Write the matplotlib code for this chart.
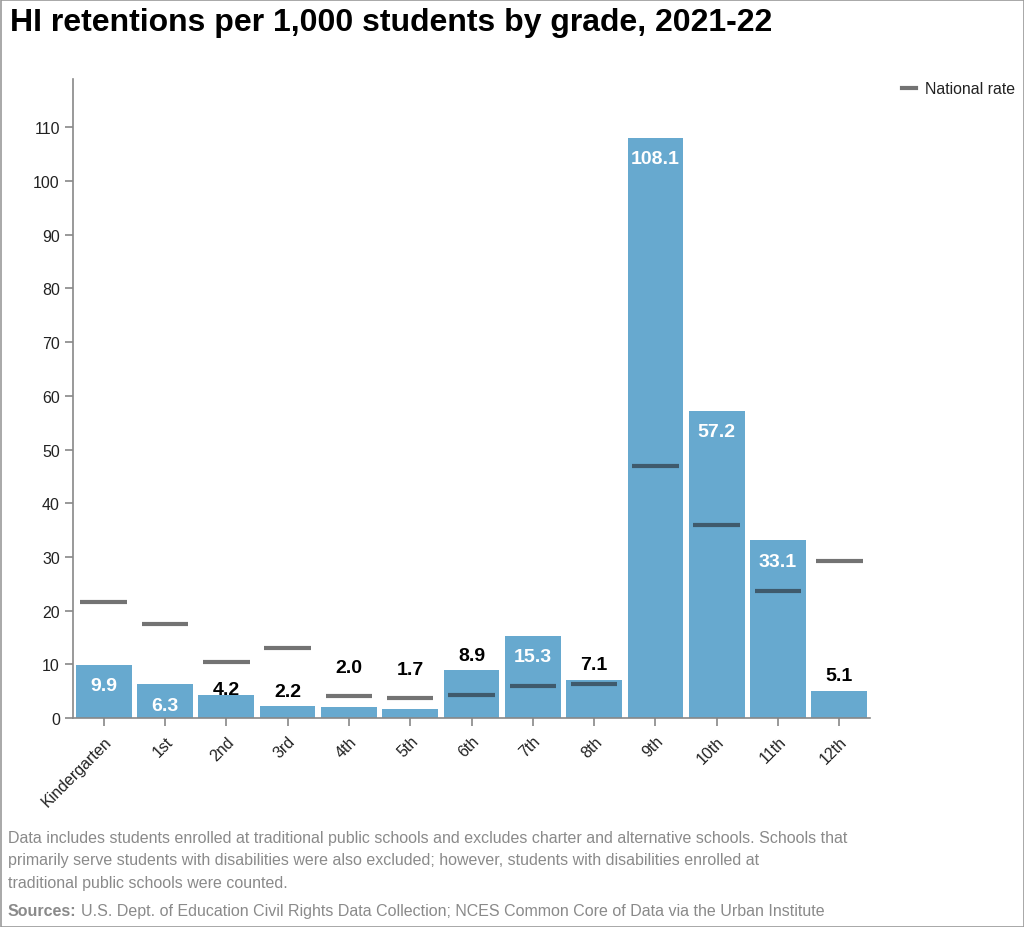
import matplotlib
matplotlib.use("Agg")
import matplotlib.pyplot as plt
from matplotlib.lines import Line2D
from matplotlib.patches import Rectangle

plt.rcParams['font.family'] = ['Liberation Sans', 'DejaVu Sans']

grades = ["Kindergarten", "1st", "2nd", "3rd", "4th", "5th", "6th", "7th", "8th",
          "9th", "10th", "11th", "12th"]
hi_rates = [9.9, 6.3, 4.2, 2.2, 2.0, 1.7, 8.9, 15.3, 7.1, 108.1, 57.2, 33.1, 5.1]
national_rates = [21.6, 17.5, 10.5, 13.0, 4.1, 3.8, 4.3, 5.9, 6.3, 46.9, 35.9, 23.6, 29.3]
label_inside = [True, True, False, False, False, False, False, True, False,
                True, True, True, False]
yticks = list(range(0, 111, 10))

bar_color = "#67a9cf"
line_out = "#737373"
line_in = "#3f5a6c"

fig = plt.figure(figsize=(10.24, 9.28), dpi=100)
ax = fig.add_axes([73/1024, 1-719/928, (870-73)/1024, (719-80)/928])

x = list(range(len(grades)))
ax.bar(x, hi_rates, width=0.91, color=bar_color, zorder=2)

for i, (v, n) in enumerate(zip(hi_rates, national_rates)):
    c = line_in if n < v else line_out
    ax.plot([i - 0.38, i + 0.38], [n, n], color=c, lw=3, solid_capstyle='butt', zorder=3)
    if label_inside[i]:
        ax.text(i, v - 2.3, f"{v:.1f}", ha='center', va='top', color='white',
                fontsize=14, fontweight='bold', zorder=4)
    else:
        base = v + 1.2
        if n > v and n - v < 4:
            base = n + 3.7
        elif i == 2:
            base = v - 0.5
        ax.text(i, base, f"{v:.1f}", ha='center', va='bottom', color='black',
                fontsize=14, fontweight='bold', zorder=4)

ax.set_xlim(-0.5, len(grades) - 0.5)
ax.set_ylim(0, 119)
ax.set_yticks(yticks)
ax.set_xticks(x)
ax.set_xticklabels(grades, rotation=45, ha='right', rotation_mode='anchor')
for s in ['top', 'right']:
    ax.spines[s].set_visible(False)
for s in ['left', 'bottom']:
    ax.spines[s].set_color('#888888')
    ax.spines[s].set_linewidth(1.2)
ax.tick_params(axis='both', colors='#888888', labelcolor='#222222', labelsize=11.5,
               length=6, width=1.2)
ax.tick_params(axis='x', pad=5)

# Title
fig.text(10/1024, 1-23/928, "HI retentions per 1,000 students by grade, 2021-22",
         fontsize=23, fontweight='bold', va='center', ha='left', color='black')

# Legend
fig.add_artist(Line2D([902/1024, 916/1024], [1-89/928, 1-89/928], color=line_out, lw=3))
fig.text(925/1024, 1-89/928, "National rate", fontsize=11.4, va='center', ha='left', color='#222222')

# Footnotes
note = ("Data includes students enrolled at traditional public schools and excludes charter and alternative schools. Schools that\n"
        "primarily serve students with disabilities were also excluded; however, students with disabilities enrolled at\n"
        "traditional public schools were counted.")
fig.text(8/1024, 1-831/928, note, fontsize=11.5, va='top', ha='left', color='#8a8a8a',
         linespacing=1.62)
t = fig.text(8/1024, 1-912/928, "Sources:", fontsize=11.5, va='center', ha='left',
             color='#8a8a8a', fontweight='bold')
fig.canvas.draw()
bb = t.get_window_extent()
fig.text((bb.x1 + 4) / 1024, 1-912/928,
         "U.S. Dept. of Education Civil Rights Data Collection; NCES Common Core of Data via the Urban Institute",
         fontsize=11.5, va='center', ha='left', color='#8a8a8a')

# Border
fig.add_artist(Rectangle((0.5/1024, 0.5/928), 1-1/1024, 1-1/928, transform=fig.transFigure,
                         fill=False, edgecolor='#999999', lw=1.2))

fig.savefig("out.png", dpi=100)
